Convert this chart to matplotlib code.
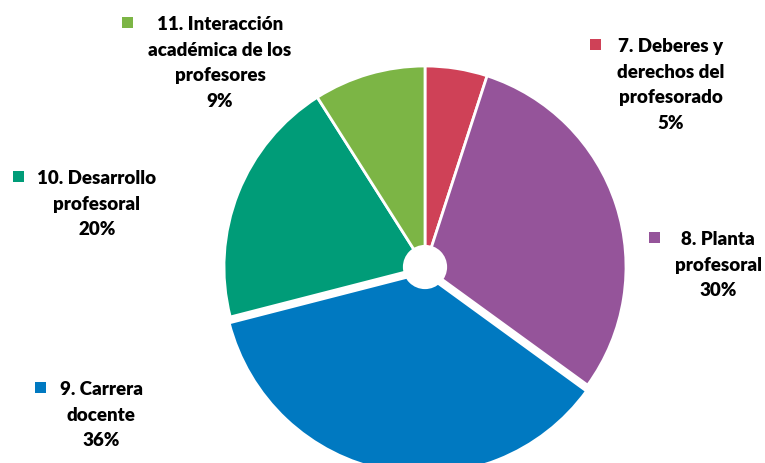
import matplotlib.pyplot as plt
from matplotlib.patches import Circle, Rectangle

# ── Data ──────────────────────────────────────────────────────────────────────
categories = [
    "7. Deberes y\nderechos del\nprofesorado",
    "8. Planta\nprofesoral",
    "9. Carrera\ndocente",
    "10. Desarrollo\nprofesoral",
    "11. Interacción\nacadémica de los\nprofesores",
]
shares = [5, 30, 36, 20, 9]
colors = ["#CF4157", "#95549A", "#0079C1", "#009C78", "#7CB545"]
explode = [0, 0, 0.03, 0, 0]

# label block positions (pixels, centre x / first line y) and marker positions
label_xy = [(671, 45), (718, 238), (101, 388), (97, 177), (220, 23)]
marker_xy = [(595, 45), (654, 238), (40, 388), (18, 177), (127, 23)]

W, H = 765, 464
plt.rcParams["font.family"] = ["Lato", "DejaVu Sans"]

fig = plt.figure(figsize=(W / 100, H / 100), dpi=100)
fig.patch.set_facecolor("white")

# ── Pie ───────────────────────────────────────────────────────────────────────
cx, cy, r = 425, 268, 201
ax = fig.add_axes([(cx - r) / W, (H - cy - r) / H, 2 * r / W, 2 * r / H])
ax.pie(
    shares,
    colors=colors,
    startangle=90,
    counterclock=False,
    explode=explode,
    wedgeprops=dict(edgecolor="white", linewidth=2),
)
ax.add_patch(Circle((0, 0), 0.11, facecolor="white", edgecolor="none", zorder=5))
ax.set_xlim(-1, 1)
ax.set_ylim(-1, 1)
ax.set_aspect("equal")
ax.axis("off")

# ── Labels ────────────────────────────────────────────────────────────────────
sq = 11
for cat, val, col, (lx, ly), (mx, my) in zip(
    categories, shares, colors, label_xy, marker_xy
):
    fig.text(
        lx / W,
        (H - ly + 7) / H,
        f"{cat}\n{val}%",
        ha="center",
        va="top",
        multialignment="center",
        linespacing=1.62,
        fontsize=13.5,
        fontweight="heavy",
        color="black",
    )
    fig.patches.append(
        Rectangle(
            ((mx - sq / 2) / W, (H - my - sq / 2) / H),
            sq / W,
            sq / H,
            transform=fig.transFigure,
            facecolor=col,
            edgecolor="none",
        )
    )

plt.savefig("out.png", dpi=100, facecolor=fig.get_facecolor())
